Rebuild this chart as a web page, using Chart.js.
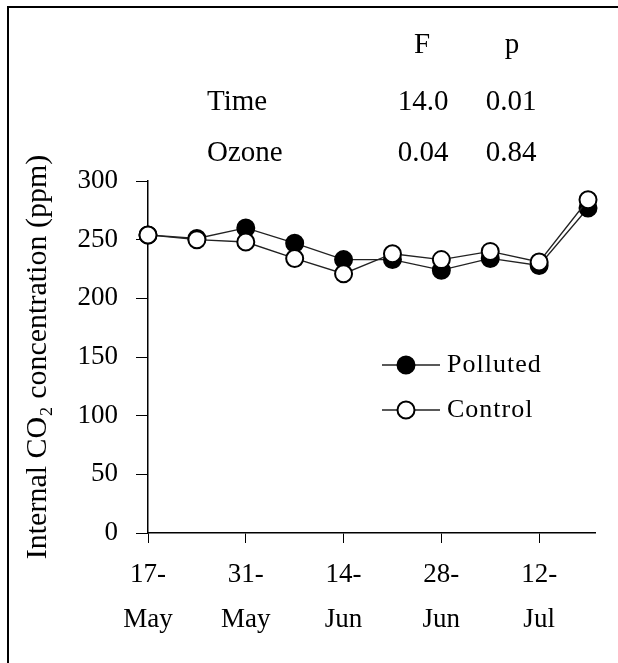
<!DOCTYPE html>
<html>
<head>
<meta charset="utf-8">
<script src="https://cdn.jsdelivr.net/npm/chart.js@4.4.1/dist/chart.umd.min.js"></script>
<style>
  html, body { margin: 0; padding: 0; background: #fff; overflow: hidden; }
  canvas { display: block; }
</style>
</head>
<body>
<canvas id="chart" width="618" height="663"></canvas>
<script>
// sampling days, counted from 17 May
var days = [0, 7, 14, 21, 28, 35, 42, 49, 56, 63];
var polluted = [254, 251, 260, 247, 233, 233, 224, 234, 228, 277];
var control = [254, 250, 248, 234, 221, 238, 233, 240, 231, 284];

var tickDays = [0, 14, 28, 42, 56];
var tickLabels = [["17-", "May"], ["31-", "May"], ["14-", "Jun"], ["28-", "Jun"], ["12-", "Jul"]];

// repeated-measures ANOVA summary
var statHeads = ["F", "p"];
var statRows = ["Time", "Ozone"];
var statF = ["14.0", "0.04"];
var statP = ["0.01", "0.84"];

var serif = "'Liberation Serif', 'Times New Roman', serif";

function toPoints(vals) {
  return vals.map((v, i) => ({ x: days[i], y: v }));
}

// open frame: only the left and top edges show
var frame = {
  id: "frame",
  beforeDraw(chart) {
    var ctx = chart.ctx;
    ctx.save();
    ctx.strokeStyle = "#000";
    ctx.lineWidth = 2;
    ctx.beginPath();
    ctx.moveTo(8, chart.height);
    ctx.lineTo(8, 7);
    ctx.lineTo(chart.width, 7);
    ctx.stroke();
    ctx.restore();
  },
};

var statsTable = {
  id: "statsTable",
  afterDraw(chart) {
    var ctx = chart.ctx;
    ctx.save();
    ctx.fillStyle = "#000";
    ctx.font = "29px " + serif;
    ctx.textBaseline = "middle";
    ctx.textAlign = "center";
    ctx.fillText(statHeads[0], 422, 45);
    ctx.fillText(statHeads[1], 512, 45);
    statRows.forEach((name, i) => {
      var y = 102 + i * 51;
      ctx.textAlign = "left";
      ctx.fillText(name, 207, y);
      ctx.textAlign = "center";
      ctx.fillText(statF[i], 423, y);
      ctx.fillText(statP[i], 511, y);
    });
    ctx.restore();
  },
};

var seriesKey = {
  id: "seriesKey",
  afterDraw(chart) {
    var ctx = chart.ctx;
    var order = [1, 0]; // Polluted first, then Control
    ctx.save();
    order.forEach((di, i) => {
      var ds = chart.data.datasets[di];
      var y = 365 + i * 45;
      ctx.strokeStyle = ds.borderColor;
      ctx.lineWidth = 1.3;
      ctx.beginPath();
      ctx.moveTo(382, y);
      ctx.lineTo(440, y);
      ctx.stroke();
      ctx.beginPath();
      ctx.arc(406, y, ds.pointRadius, 0, Math.PI * 2);
      ctx.fillStyle = ds.pointBackgroundColor;
      ctx.fill();
      ctx.lineWidth = ds.pointBorderWidth;
      ctx.strokeStyle = "#000";
      ctx.stroke();
      ctx.fillStyle = "#000";
      ctx.font = "26px " + serif;
      ctx.letterSpacing = "1px";
      ctx.textBaseline = "middle";
      ctx.textAlign = "left";
      ctx.fillText(ds.label, 447, y);
    });
    ctx.restore();
  },
};

new Chart(document.getElementById("chart"), {
  type: "line",
  data: {
    datasets: [
      {
        label: "Control",
        data: toPoints(control),
        borderColor: "#222",
        borderWidth: 1.3,
        pointRadius: 8.5,
        pointBorderWidth: 2,
        pointBorderColor: "#000",
        pointBackgroundColor: "#fff",
        clip: false,
      },
      {
        label: "Polluted",
        data: toPoints(polluted),
        borderColor: "#222",
        borderWidth: 1.3,
        pointRadius: 8.5,
        pointBorderWidth: 2,
        pointBorderColor: "#000",
        pointBackgroundColor: "#000",
        clip: false,
      },
    ],
  },
  options: {
    responsive: false,
    animation: false,
    devicePixelRatio: 1,
    layout: { padding: { left: 0, top: 181, right: 23, bottom: 0 } },
    plugins: {
      legend: { display: false },
      tooltip: { enabled: false },
    },
    scales: {
      x: {
        type: "linear",
        min: 0,
        max: 64,
        afterFit: (scale) => { scale.height = 130; },
        afterBuildTicks: (scale) => {
          scale.ticks = tickDays.map((d) => ({ value: d }));
        },
        border: { display: true, color: "#000", width: 1.5 },
        grid: { drawOnChartArea: false, color: "#000", tickLength: 10 },
        ticks: {
          autoSkip: false,
          maxRotation: 0,
          padding: 10,
          color: "#000",
          font: { family: serif, size: 27, lineHeight: 1.65 },
          callback: (v, i) => tickLabels[i],
        },
      },
      y: {
        min: 0,
        max: 300,
        afterFit: (scale) => { scale.width = 148; },
        border: { display: true, color: "#000", width: 1.5 },
        grid: { drawOnChartArea: false, color: "#000", tickLength: 12 },
        ticks: {
          stepSize: 50,
          padding: 18,
          color: "#000",
          font: { family: serif, size: 27 },
        },
        title: {
          display: true,
          text: "Internal CO\u2082 concentration (ppm)",
          color: "#000",
          font: { family: serif, size: 30 },
          padding: { top: 20, bottom: 0 },
        },
      },
    },
  },
  plugins: [frame, statsTable, seriesKey],
});
</script>
</body>
</html>
